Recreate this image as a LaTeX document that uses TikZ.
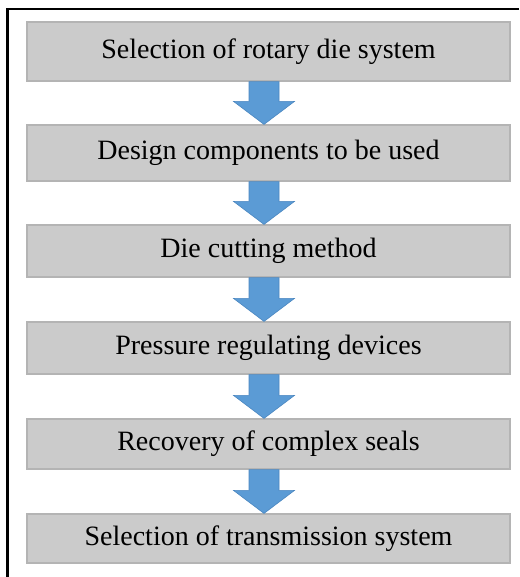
\documentclass[tikz,border=0pt]{standalone}
\usepackage{fontspec}
\setmainfont{Liberation Serif}
\usepackage{xcolor}
\usepackage{tikz}
\usetikzlibrary{calc}

\definecolor{boxgray}{HTML}{CBCBCB}
\definecolor{boxline}{HTML}{B4B4B4}
\definecolor{arrblue}{HTML}{5B9BD5}
\definecolor{arredge}{HTML}{4A86C0}

\newcommand{\blockarrow}[2]{\filldraw[blk] ($(#1.south)+(-19.5,0)$) -- ($(#1.south)+(10.5,0)$) -- ($(#2.north)+(10.5,23)$) -- ($(#2.north)+(26,23)$) -- ($(#2.north)+(-4.5,0)$) -- ($(#2.north)+(-35,23)$) -- ($(#2.north)+(-19.5,23)$) -- cycle;}

\begin{document}
\begin{tikzpicture}[x=1pt, y=1pt, every node/.style={font=\fontsize{28}{32}\selectfont}, stage/.style={draw=boxline, line width=1.2pt, fill=boxgray, minimum width=483pt, minimum height=52pt, inner sep=0pt}, blk/.style={fill=arrblue, draw=arredge, line width=0.6pt}, frame/.style={line width=2.5pt}]
\useasboundingbox (0,0) rectangle (519,-577);
\draw[frame] (519,-9) -- (7.5,-9) -- (7.5,-577);
\node[stage, minimum height=59pt] (sel) at (268.5,-51.5) {Selection of rotary die system};
\node[stage, minimum height=56pt] (design) at (268.5,-153) {Design components to be used};
\node[stage] (cut) at (268.5,-251) {Die cutting method};
\node[stage] (press) at (268.5,-348) {Pressure regulating devices};
\node[stage, minimum height=50pt] (seals) at (268.5,-444) {Recovery of complex seals};
\node[stage, minimum height=49pt] (trans) at (268.5,-538.5) {Selection of transmission system};
\blockarrow{sel}{design} \blockarrow{design}{cut} \blockarrow{cut}{press} \blockarrow{press}{seals} \blockarrow{seals}{trans}
\end{tikzpicture}
\end{document}
